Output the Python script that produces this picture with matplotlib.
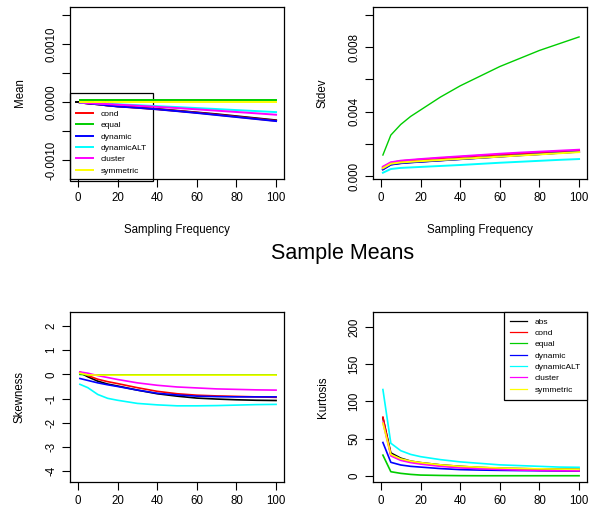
import matplotlib
matplotlib.use("Agg")
import matplotlib.pyplot as plt

plt.rcParams['font.family'] = ['Liberation Sans', 'DejaVu Sans']

# sampling frequencies
freq = [1, 5, 10, 15, 20, 30, 40, 50, 60, 70, 80, 90, 100]

methods = ["abs", "cond", "equal", "dynamic", "dynamicALT", "cluster", "symmetric"]
colors = ["black", "#FF0000", "#00CD00", "#0000FF", "#00FFFF", "#FF00FF", "#FFFF00"]

# mean of sample means (x 1e-4)
mean_abs = [-0.1, -0.25, -0.4, -0.6, -0.75, -0.95, -1.2, -1.5, -1.8, -2.1, -2.45, -2.8, -3.15]
mean_cond = [-0.1, -0.25, -0.4, -0.6, -0.75, -1.0, -1.25, -1.55, -1.85, -2.2, -2.55, -2.9, -3.25]
mean_equal = [0.3, 0.3, 0.3, 0.3, 0.3, 0.3, 0.3, 0.3, 0.3, 0.3, 0.3, 0.3, 0.3]
mean_dynamic = [-0.1, -0.25, -0.4, -0.6, -0.78, -1.0, -1.27, -1.58, -1.9, -2.25, -2.6, -2.95, -3.3]
mean_dynamicALT = [-0.1, -0.15, -0.25, -0.32, -0.4, -0.55, -0.72, -0.88, -1.05, -1.22, -1.4, -1.57, -1.75]
mean_cluster = [-0.1, -0.18, -0.28, -0.37, -0.46, -0.65, -0.85, -1.05, -1.27, -1.5, -1.73, -1.96, -2.2]
mean_symmetric = [0.0, 0.0, 0.0, 0.0, 0.0, 0.0, 0.0, 0.0, 0.0, 0.0, 0.0, 0.0, 0.0]

# standard deviation (x 1e-3)
sd_abs = [0.42, 0.72, 0.80, 0.85, 0.89, 0.97, 1.05, 1.13, 1.21, 1.29, 1.36, 1.44, 1.51]
sd_cond = [0.52, 0.82, 0.92, 0.97, 1.02, 1.10, 1.18, 1.26, 1.33, 1.40, 1.46, 1.52, 1.57]
sd_equal = [1.30, 2.54, 3.20, 3.70, 4.10, 4.90, 5.60, 6.20, 6.80, 7.30, 7.80, 8.22, 8.64]
sd_dynamic = [0.40, 0.70, 0.79, 0.84, 0.88, 0.96, 1.04, 1.12, 1.20, 1.28, 1.35, 1.43, 1.50]
sd_dynamicALT = [0.20, 0.43, 0.50, 0.53, 0.56, 0.62, 0.68, 0.75, 0.82, 0.88, 0.94, 1.00, 1.05]
sd_cluster = [0.58, 0.85, 0.95, 1.00, 1.05, 1.14, 1.22, 1.30, 1.38, 1.45, 1.51, 1.57, 1.63]
sd_symmetric = [0.48, 0.76, 0.84, 0.88, 0.92, 0.99, 1.06, 1.13, 1.20, 1.27, 1.34, 1.41, 1.48]

# skewness
sk_abs = [0.07, -0.1, -0.28, -0.4, -0.48, -0.65, -0.8, -0.9, -0.98, -1.02, -1.05, -1.07, -1.08]
sk_cond = [0.1, -0.05, -0.2, -0.3, -0.38, -0.55, -0.7, -0.8, -0.86, -0.89, -0.91, -0.93, -0.95]
sk_equal = [0.0, -0.02, -0.02, -0.02, -0.02, -0.02, -0.02, -0.02, -0.02, -0.02, -0.02, -0.02, -0.02]
sk_dynamic = [-0.17, -0.25, -0.35, -0.43, -0.5, -0.65, -0.78, -0.85, -0.9, -0.92, -0.93, -0.93, -0.93]
sk_dynamicALT = [-0.41, -0.55, -0.83, -0.99, -1.07, -1.2, -1.26, -1.3, -1.3, -1.29, -1.27, -1.25, -1.24]
sk_cluster = [0.1, 0.05, -0.05, -0.13, -0.21, -0.35, -0.45, -0.52, -0.56, -0.6, -0.62, -0.64, -0.65]
sk_symmetric = [0.05, -0.02, -0.03, -0.03, -0.03, -0.03, -0.03, -0.03, -0.03, -0.03, -0.03, -0.03, -0.03]

# kurtosis
ku_abs = [78, 31, 24, 20, 18, 15, 13, 11.5, 10.5, 10, 9.5, 9.2, 9]
ku_cond = [79, 28, 22, 19, 17, 14, 11.6, 10.3, 9, 8.3, 7.7, 7.3, 7]
ku_equal = [28, 5.8, 3.6, 2.2, 1.3, 0.8, 0.5, 0.4, 0.4, 0.4, 0.4, 0.4, 0.4]
ku_dynamic = [45, 18.4, 14.8, 13, 12, 10, 8.6, 8, 7.6, 7.3, 7.1, 7, 7]
ku_dynamicALT = [116, 44, 34, 29, 26, 22, 19, 17, 15, 14, 13, 12, 11.7]
ku_cluster = [72, 27, 21, 18, 16, 13, 11, 9.8, 8.8, 8, 7.5, 7.2, 7]
ku_symmetric = [71, 29, 23, 20, 18, 15, 13, 11.8, 10.8, 10.2, 9.7, 9.3, 9]

mean_series = [mean_abs, mean_cond, mean_equal, mean_dynamic, mean_dynamicALT, mean_cluster, mean_symmetric]
sd_series = [sd_abs, sd_cond, sd_equal, sd_dynamic, sd_dynamicALT, sd_cluster, sd_symmetric]
sk_series = [sk_abs, sk_cond, sk_equal, sk_dynamic, sk_dynamicALT, sk_cluster, sk_symmetric]
ku_series = [ku_abs, ku_cond, ku_equal, ku_dynamic, ku_dynamicALT, ku_cluster, ku_symmetric]

W, H = 595, 514
fig = plt.figure(figsize=(W / 100, H / 100), dpi=100)

def px_axes(x0, y0, x1, y1):
    return fig.add_axes([x0 / W, 1 - y1 / H, (x1 - x0) / W, (y1 - y0) / H])

ax_mean = px_axes(70, 7, 284, 179)
ax_sd = px_axes(373, 7, 587, 179)
ax_sk = px_axes(70, 312, 284, 482)
ax_ku = px_axes(373, 312, 587, 482)

FS = 8.3

def style(ax, yticks, ylabels, ylim, ylab, xlab=None):
    ax.set_xlim(-4, 104)
    ax.set_ylim(*ylim)
    ax.set_xticks([0, 20, 40, 60, 80, 100])
    ax.set_yticks(yticks)
    ax.set_yticklabels(ylabels, rotation=90, va='center')
    ax.tick_params(length=5.8, width=0.8, labelsize=FS, pad=3.5)
    for s in ax.spines.values():
        s.set_linewidth(0.9)
    ax.set_ylabel(ylab, fontsize=FS, va='center')
    ax.yaxis.set_label_coords(-0.234, 0.5)
    if xlab:
        ax.set_xlabel(xlab, fontsize=FS, va='center')
        ax.xaxis.set_label_coords(0.5, -0.2965)

# Mean panel
for vals, c in zip(mean_series, colors):
    ax_mean.plot(freq, [v * 1e-4 for v in vals], color=c, lw=1.4, zorder=3)
style(ax_mean, [-0.0010, -0.0005, 0.0, 0.0005, 0.0010, 0.0015],
      ["-0.0010", "", "0.0000", "", "0.0010", ""], (-0.00133, 0.00164),
      "Mean", "Sampling Frequency")
handles = [plt.Line2D([], [], color=c, lw=1.4) for c in colors]
leg = ax_mean.legend(handles, methods, loc='upper left', bbox_to_anchor=(0, (179 - 93) / 172),
                     fontsize=6, frameon=True, fancybox=False, edgecolor='black',
                     handlelength=2.1, handletextpad=0.9, labelspacing=0.42,
                     borderpad=0.7, borderaxespad=0)
frame = leg.get_frame()
frame.set_linewidth(0.9)
frame.set_facecolor('none')
frame.set_alpha(None)
frame.set_edgecolor('black')
leg.set_zorder(1)

# Stdev panel
for vals, c in zip(sd_series, colors):
    lw = 1.0 if c == "#00CD00" else 1.4
    ax_sd.plot(freq, [v * 1e-3 for v in vals], color=c, lw=lw)
style(ax_sd, [0.0, 0.002, 0.004, 0.006, 0.008, 0.010],
      ["0.000", "", "0.004", "", "0.008", ""], (-0.00019, 0.0105),
      "Stdev", "Sampling Frequency")

# Skewness panel
for vals, c in zip(sk_series, colors):
    ax_sk.plot(freq, vals, color=c, lw=1.2)
style(ax_sk, [-4, -3, -2, -1, 0, 1, 2], ["-4", "-3", "-2", "-1", "0", "1", "2"],
      (-4.45, 2.58), "Skewness")

# Kurtosis panel
for vals, c in zip(ku_series, colors):
    ax_ku.plot(freq, vals, color=c, lw=1.2)
style(ax_ku, [0, 50, 100, 150, 200], ["0", "50", "100", "150", "200"],
      (-8, 220), "Kurtosis")
handles = [plt.Line2D([], [], color=c, lw=0.9) for c in colors]
leg2 = ax_ku.legend(handles, methods, loc='upper right', fontsize=6, frameon=True,
                    fancybox=False, edgecolor='black', framealpha=1,
                    handlelength=2.1, handletextpad=0.9, labelspacing=0.42,
                    borderpad=0.7, borderaxespad=0)
leg2.get_frame().set_linewidth(0.9)

fig.text(343 / W, 1 - 253 / H, "Sample Means", fontsize=15.5, ha='center', va='center')

fig.savefig("out.png", dpi=100)
